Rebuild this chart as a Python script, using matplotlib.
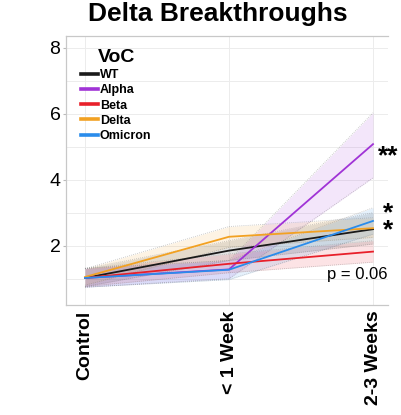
import numpy as np
import matplotlib
matplotlib.use("Agg")
import matplotlib.pyplot as plt
from matplotlib.lines import Line2D

plt.rcParams['font.family'] = ['Liberation Sans', 'DejaVu Sans']

timepoints = ['Control', '< 1 Week', '2-3 Weeks']
variants = ['WT', 'Alpha', 'Beta', 'Delta', 'Omicron']
colors = ['#1a1a1a', '#a033d6', '#e8202a', '#f2a122', '#2a8ceb']

wt = [1.02, 1.85, 2.50]
wt_lo = [0.76, 1.55, 2.05]
wt_hi = [1.30, 2.15, 3.00]

alpha = [1.02, 1.28, 5.08]
alpha_lo = [0.74, 1.00, 4.06]
alpha_hi = [1.32, 1.55, 6.03]

beta = [1.02, 1.45, 1.82]
beta_lo = [0.76, 1.18, 1.50]
beta_hi = [1.30, 1.75, 2.15]

delta = [1.05, 2.27, 2.53]
delta_lo = [0.80, 1.95, 2.25]
delta_hi = [1.30, 2.58, 2.85]

omicron = [1.02, 1.27, 2.75]
omicron_lo = [0.74, 0.97, 2.35]
omicron_hi = [1.30, 1.55, 3.15]

means = [wt, alpha, beta, delta, omicron]
lows = [wt_lo, alpha_lo, beta_lo, delta_lo, omicron_lo]
highs = [wt_hi, alpha_hi, beta_hi, delta_hi, omicron_hi]

fig = plt.figure(figsize=(4.01, 4.15), dpi=100)
ax = fig.add_axes([66/401, 1-305/415, (388-66)/401, (305-36)/415])

x = np.arange(len(timepoints))
for m, lo, hi, c in zip(means, lows, highs, colors):
    ax.fill_between(x, lo, hi, color=c, alpha=0.12, linewidth=0, zorder=2)
    ax.plot(x, lo, color='#888888', lw=0.6, ls=(0, (1, 1.5)), alpha=0.55, zorder=3)
    ax.plot(x, hi, color='#888888', lw=0.6, ls=(0, (1, 1.5)), alpha=0.55, zorder=3)
for m, c in zip(means, colors):
    ax.plot(x, m, color=c, lw=1.3, zorder=4)

ax.set_xlim(-0.132, 2.104)
ax.set_ylim(0.2, 8.36)
ax.set_yticks([2, 4, 6, 8])
ax.set_yticks([1, 3, 5, 7], minor=True)
ax.set_xticks(x)
ax.set_xticklabels(timepoints, rotation=90, fontweight='bold', fontsize=14, va='top', ha='center')
ax.tick_params(axis='y', labelsize=14, length=2, color='#bbbbbb', pad=2)
ax.tick_params(axis='y', which='minor', length=0)
ax.tick_params(axis='x', length=0, pad=4)
ax.grid(True, which='both', color='#ececec', lw=0.7, zorder=0)
ax.set_axisbelow(True)
for s in ['left', 'bottom', 'top']:
    ax.spines[s].set_color('#c8c8c8')
    ax.spines[s].set_linewidth(0.9)
ax.spines['right'].set_visible(False)

handles = [Line2D([], [], color=c, lw=2.6) for c in colors]
leg = ax.legend(handles, variants, title='VoC', loc='upper left', bbox_to_anchor=(0.02, 0.985),
                frameon=False, prop={'weight': 'bold', 'size': 9},
                handlelength=1.35, handletextpad=0.15, labelspacing=0.26, borderpad=0.2)
leg.get_title().set_fontweight('bold')
leg.get_title().set_fontsize(14)

ax.text(2.104, 4.70, '**', fontsize=19, fontweight='bold', ha='center', va='center')
ax.text(2.104, 2.72, '*\n*', fontsize=19, fontweight='bold', ha='center', va='center',
        linespacing=0.6)
ax.text(2.104, 1.0, 'p = 0.06', fontsize=12, ha='right', va='baseline')

fig.text(218/401, 1-21/415, 'Delta Breakthroughs', fontsize=19, fontweight='bold',
         ha='center', va='baseline')

fig.savefig('out.png', dpi=100)
